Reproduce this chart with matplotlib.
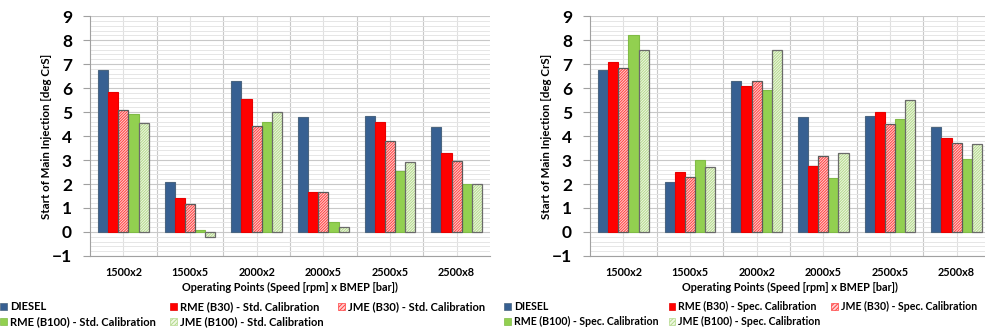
import numpy as np
import matplotlib
matplotlib.use("Agg")
from matplotlib import pyplot as plt
from matplotlib.patches import Patch
from matplotlib.ticker import MultipleLocator

plt.rcParams['font.family'] = ['Lato', 'DejaVu Sans']
plt.rcParams['font.weight'] = 'bold'
plt.rcParams['hatch.linewidth'] = 0.7

# operating points
categories = ["1500x2", "1500x5", "2000x2", "2000x5", "2500x5", "2500x8"]

# start of main injection [deg CrS]
diesel = [6.75, 2.1, 6.3, 4.8, 4.85, 4.38]

std_rme_b30 = [5.85, 1.4, 5.55, 1.65, 4.58, 3.3]
std_jme_b30 = [5.1, 1.18, 4.4, 1.68, 3.8, 2.95]
std_rme_b100 = [4.9, 0.1, 4.6, 0.4, 2.55, 2.0]
std_jme_b100 = [4.55, -0.2, 5.0, 0.22, 2.9, 2.02]

spec_rme_b30 = [7.07, 2.52, 6.08, 2.75, 5.0, 3.92]
spec_jme_b30 = [6.85, 2.3, 6.3, 3.15, 4.52, 3.7]
spec_rme_b100 = [8.2, 3.0, 5.9, 2.25, 4.7, 3.05]
spec_jme_b100 = [7.6, 2.7, 7.6, 3.3, 5.5, 3.68]

# (face, hatch colour or None, edge)
styles = [
    ("#376092", None, "#4a6580"),
    ("#ff0000", None, "#e80000"),
    ("#ffd0d0", "#ff4040", "#5a5a5a"),
    ("#92d050", None, "#80bb46"),
    ("#eef7e2", "#b4da8c", "#6a6a6a"),
]
HATCH = "/" * 12


def draw_panel(ax, series, labels):
    x = np.arange(len(categories))
    w = 0.152
    handles = []
    for i, (vals, lab, (fc, hc, ec)) in enumerate(zip(series, labels, styles)):
        pos = x + (i - 2) * w
        if hc is None:
            ax.bar(pos, vals, w, color=fc, edgecolor=ec, linewidth=0.8, zorder=3)
            handles.append(Patch(facecolor=fc, edgecolor=ec, linewidth=0.5, label=lab))
        else:
            ax.bar(pos, vals, w, color=fc, edgecolor=hc, hatch=HATCH, linewidth=0, zorder=3)
            ax.bar(pos, vals, w, facecolor="none", edgecolor=ec, linewidth=0.9, zorder=4)
            handles.append(Patch(facecolor=fc, edgecolor=hc, hatch="/" * 8, linewidth=0.5,
                                 label=lab))

    ax.set_xlim(-0.5, len(categories) - 0.5)
    ax.set_ylim(-1, 9)
    ax.set_xticks(x)
    ax.set_xticklabels(categories, fontsize=7.8, fontweight='bold')
    ax.yaxis.set_major_locator(MultipleLocator(1))
    ax.yaxis.set_minor_locator(MultipleLocator(0.2))
    ax.tick_params(axis='x', which='both', length=0, pad=8)
    ax.tick_params(axis='y', which='major', length=5, color='#a0a0a0', labelsize=12.5, pad=8)
    ax.tick_params(axis='y', which='minor', length=0)
    for t in ax.get_yticklabels():
        t.set_fontweight('bold')

    ax.grid(which='major', axis='y', color='#c8c8c8', linewidth=0.8, zorder=0)
    ax.grid(which='minor', axis='y', color='#e6e6e6', linewidth=0.7, zorder=0)
    # category boundaries and centres as vertical lines
    for b in np.arange(0.5, len(categories) - 0.5, 1.0):
        ax.axvline(b, color='#c8c8c8', linewidth=0.8, zorder=0)
    for xi in x:
        ax.axvline(xi, color='#e0e0e0', linewidth=0.8, zorder=0)

    for s in ['top', 'right']:
        ax.spines[s].set_visible(False)
    ax.spines['left'].set_color('#a0a0a0')
    ax.spines['bottom'].set_color('#a0a0a0')

    ax.set_ylabel("Start of Main Injection [deg CrS]", fontsize=8.3, fontweight='bold', labelpad=0)
    ax.set_xlabel("Operating Points (Speed [rpm] x BMEP [bar])", fontsize=7.8, fontweight='bold',
                  labelpad=3)
    return handles


fig = plt.figure(figsize=(9.85, 3.29), dpi=100)
ax1 = fig.add_axes([0.0914, 0.222, 0.406, 0.729])
ax2 = fig.add_axes([0.599, 0.222, 0.406, 0.729])

std_labels = ["DIESEL", "RME (B30) - Std. Calibration", "JME (B30) - Std. Calibration",
              "RME (B100) - Std. Calibration", "JME (B100) - Std. Calibration"]
spec_labels = ["DIESEL", "RME (B30) - Spec. Calibration", "JME (B30) - Spec. Calibration",
               "RME (B100) - Spec. Calibration", "JME (B100) - Spec. Calibration"]

h1 = draw_panel(ax1, [diesel, std_rme_b30, std_jme_b30, std_rme_b100, std_jme_b100], std_labels)
h2 = draw_panel(ax2, [diesel, spec_rme_b30, spec_jme_b30, spec_rme_b100, spec_jme_b100], spec_labels)

# reorder so legend fills row by row
order = [0, 3, 1, 4, 2]
for h, x0, fs, cs in [(h1, 0.0, 8.0, 1.3), (h2, 0.512, 7.6, 1.0)]:
    fig.legend([h[i] for i in order], [h[i].get_label() for i in order], ncol=3,
               loc='upper left', bbox_to_anchor=(x0, 0.084), frameon=False,
               prop={'size': fs, 'weight': 'bold'}, handlelength=0.6, handleheight=0.6,
               handletextpad=0.3, columnspacing=cs, labelspacing=0.38, borderaxespad=0,
               borderpad=0)

fig.savefig("out.png", dpi=100)
